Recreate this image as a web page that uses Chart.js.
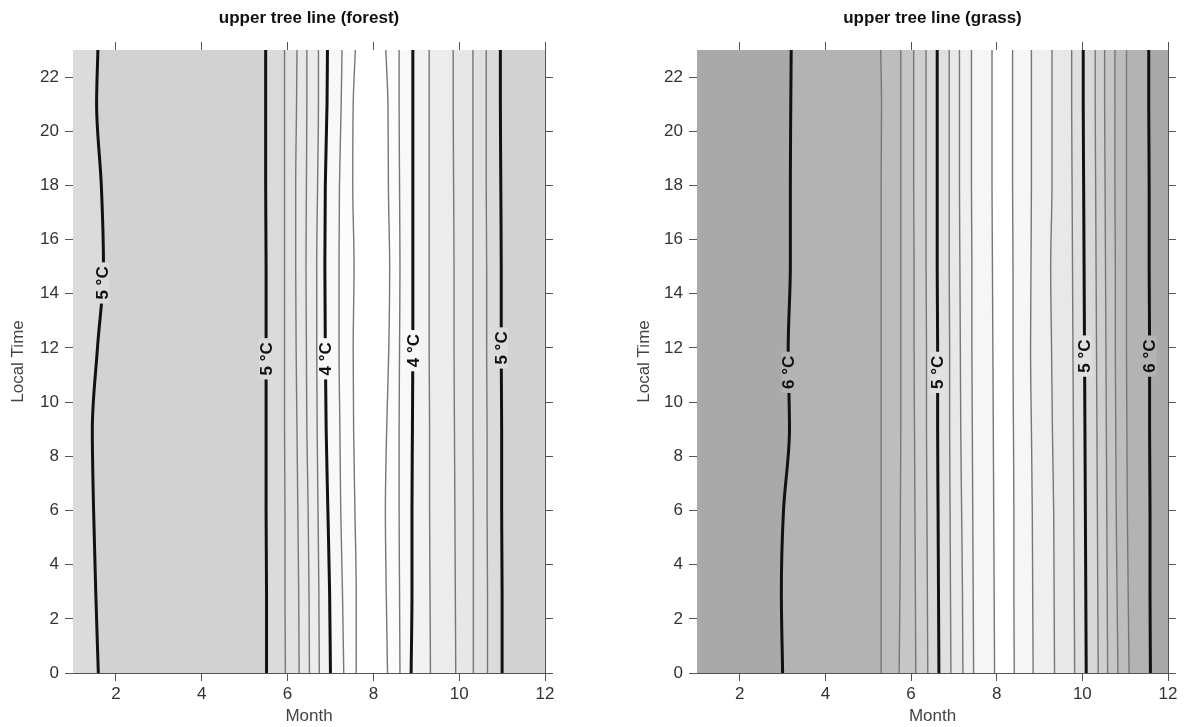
<!DOCTYPE html>
<html>
<head>
<meta charset="utf-8">
<script src="https://cdn.jsdelivr.net/npm/chart.js@4.4.1/dist/chart.umd.min.js"></script>
<style>
  html, body { margin: 0; padding: 0; background: #fff; }
  .panel { position: absolute; top: 0; width: 596px; height: 727px; }
  #left { left: 0; }
  #right { left: 596px; }
</style>
</head>
<body>
<div class="panel" id="left"><canvas id="forestChart"></canvas></div>
<div class="panel" id="right"><canvas id="grassChart"></canvas></div>
<script>
const HOURS = [0, 3, 6, 9, 12, 15, 18, 21, 23];
const MONTH_TICKS = [2, 4, 6, 8, 10, 12];
const HOUR_TICKS = [0, 2, 4, 6, 8, 10, 12, 14, 16, 18, 20, 22];

// upper tree line (forest): contour level and month position of each line
const forestLevels = [5, 5, 4.8, 4.6, 4.4, 4.2, 4, 3.8, 3.6, 3.6, 3.8, 4, 4.2, 4.4, 4.6, 4.8, 5];
const forestLines = [
    [1.59, 1.53, 1.48, 1.45, 1.57, 1.71, 1.66, 1.55, 1.58],
    [5.51, 5.51, 5.50, 5.50, 5.50, 5.50, 5.49, 5.49, 5.49],
    [5.95, 5.94, 5.94, 5.93, 5.93, 5.93, 5.93, 5.93, 5.93],
    [6.27, 6.26, 6.24, 6.22, 6.20, 6.19, 6.19, 6.21, 6.22],
    [6.51, 6.50, 6.48, 6.45, 6.44, 6.43, 6.44, 6.45, 6.45],
    [6.74, 6.73, 6.71, 6.69, 6.68, 6.68, 6.70, 6.72, 6.72],
    [7.00, 6.98, 6.94, 6.90, 6.88, 6.87, 6.88, 6.92, 6.93],
    [7.31, 7.28, 7.24, 7.22, 7.20, 7.20, 7.21, 7.25, 7.27],
    [7.60, 7.60, 7.57, 7.54, 7.53, 7.55, 7.52, 7.53, 7.58],
    [8.33, 8.30, 8.28, 8.31, 8.36, 8.38, 8.35, 8.34, 8.29],
    [8.62, 8.61, 8.60, 8.60, 8.61, 8.62, 8.61, 8.60, 8.60],
    [8.88, 8.90, 8.90, 8.91, 8.92, 8.92, 8.92, 8.92, 8.92],
    [9.33, 9.32, 9.31, 9.31, 9.30, 9.30, 9.30, 9.30, 9.30],
    [9.92, 9.91, 9.90, 9.89, 9.88, 9.88, 9.87, 9.86, 9.86],
    [10.33, 10.33, 10.33, 10.32, 10.32, 10.32, 10.32, 10.32, 10.32],
    [10.66, 10.66, 10.65, 10.65, 10.64, 10.64, 10.63, 10.63, 10.63],
    [11.00, 11.00, 10.99, 10.99, 10.98, 10.98, 10.97, 10.96, 10.96]
];
// hour where the label sits on each labelled (whole degree) line, in line order
const forestLabelHours = [14.4, 11.6, 11.6, 11.9, 12.0];

// upper tree line (grass)
const grassLevels = [6, 5.8, 5.6, 5.4, 5.2, 5, 4.8, 4.6, 4.4, 4.2, 4.2, 4.4, 4.6, 4.8, 5, 5.2, 5.4, 5.6, 5.8, 6];
const grassLines = [
    [3.00, 2.97, 3.02, 3.16, 3.13, 3.18, 3.18, 3.19, 3.20],
    [5.30, 5.30, 5.30, 5.30, 5.30, 5.30, 5.30, 5.31, 5.29],
    [5.72, 5.74, 5.75, 5.76, 5.76, 5.76, 5.76, 5.76, 5.76],
    [6.11, 6.10, 6.09, 6.08, 6.07, 6.07, 6.06, 6.06, 6.06],
    [6.39, 6.38, 6.37, 6.36, 6.36, 6.35, 6.35, 6.35, 6.35],
    [6.65, 6.64, 6.63, 6.62, 6.62, 6.61, 6.61, 6.61, 6.61],
    [6.93, 6.92, 6.91, 6.90, 6.90, 6.89, 6.89, 6.89, 6.89],
    [7.21, 7.20, 7.18, 7.16, 7.15, 7.14, 7.13, 7.13, 7.13],
    [7.46, 7.45, 7.44, 7.43, 7.42, 7.42, 7.41, 7.41, 7.41],
    [7.95, 7.94, 7.93, 7.92, 7.91, 7.90, 7.89, 7.89, 7.89],
    [8.41, 8.40, 8.40, 8.39, 8.38, 8.38, 8.37, 8.37, 8.37],
    [8.85, 8.84, 8.83, 8.81, 8.79, 8.80, 8.81, 8.81, 8.81],
    [9.35, 9.34, 9.33, 9.30, 9.28, 9.26, 9.29, 9.29, 9.29],
    [9.82, 9.81, 9.80, 9.79, 9.78, 9.77, 9.76, 9.75, 9.75],
    [10.09, 10.08, 10.07, 10.06, 10.05, 10.04, 10.03, 10.02, 10.02],
    [10.37, 10.36, 10.35, 10.34, 10.33, 10.32, 10.31, 10.30, 10.30],
    [10.59, 10.58, 10.57, 10.56, 10.55, 10.54, 10.53, 10.52, 10.52],
    [10.83, 10.81, 10.79, 10.78, 10.77, 10.77, 10.76, 10.76, 10.76],
    [11.09, 11.07, 11.05, 11.04, 11.03, 11.03, 11.03, 11.03, 11.03],
    [11.59, 11.58, 11.58, 11.57, 11.57, 11.56, 11.56, 11.55, 11.55]
];
const grassLabelHours = [11.1, 11.1, 11.7, 11.7];

// grey of each band between lines (left edge ... right edge)
const forestBandColors = ['#dbdbdb', '#d2d2d2', '#dbdbdb', '#e1e1e1', '#e7e7e7', '#ececec', '#f2f2f2', '#f8f8f8', '#fcfcfc',
    '#ffffff', '#fcfcfc', '#f8f8f8', '#f2f2f2', '#ececec', '#e7e7e7', '#e1e1e1', '#dbdbdb', '#d2d2d2'];
const grassBandColors = ['#a9a9a9', '#b3b3b3', '#bdbdbd', '#c6c6c6', '#cfcfcf', '#d8d8d8', '#e0e0e0', '#e8e8e8', '#efefef', '#f6f6f6',
    '#ffffff', '#f6f6f6', '#efefef', '#e8e8e8', '#e0e0e0', '#d8d8d8', '#cfcfcf', '#c6c6c6', '#bdbdbd', '#b3b3b3', '#a9a9a9'];

Chart.defaults.font.family = '"Liberation Sans", Arial, sans-serif';
Chart.defaults.color = '#333';

const FONT = '"Liberation Sans", Arial, sans-serif';

function lightness(hex) {
    return parseInt(hex.slice(1, 3), 16);
}

function labelPlugin(items) {
    return {
        id: 'contourLabels',
        afterDatasetsDraw(chart) {
            const ctx = chart.ctx;
            const yScale = chart.scales.y;
            items.forEach(item => {
                const pts = chart.getDatasetMeta(item.dataset).data;
                const py = yScale.getPixelForValue(item.hour);
                let px = pts[0].x;
                for (let k = 1; k < pts.length; k++) {
                    const a = pts[k - 1], b = pts[k];
                    if (py <= a.y && py >= b.y) {
                        const t = (a.y - py) / (a.y - b.y);
                        px = a.x + t * (b.x - a.x);
                        break;
                    }
                }
                ctx.save();
                ctx.translate(px, py);
                ctx.rotate(-Math.PI / 2);
                ctx.font = 'bold 17px ' + FONT;
                const w = ctx.measureText(item.text).width;
                ctx.fillStyle = item.bg;
                ctx.fillRect(-w / 2 - 4, -7, w + 8, 14);
                ctx.fillStyle = '#111';
                ctx.textAlign = 'center';
                ctx.textBaseline = 'middle';
                ctx.fillText(item.text, 0, 1);
                ctx.restore();
            });
        }
    };
}

function makeChart(canvasId, title, lines, levels, bandColors, labelHours, pad) {
    const datasets = lines.map((months, i) => {
        const thick = Number.isInteger(levels[i]);
        return {
            data: months.map((m, k) => ({x: m, y: HOURS[k]})),
            borderColor: thick ? '#111' : '#777',
            borderWidth: thick ? 3 : 1.4,
            backgroundColor: bandColors[i],
            fill: i === 0 ? {value: 1} : '-1',
            pointRadius: 0,
            cubicInterpolationMode: 'monotone'
        };
    });
    const last = lines[lines.length - 1];
    datasets.push({
        data: last.map((m, k) => ({x: m, y: HOURS[k]})),
        borderWidth: 0,
        backgroundColor: bandColors[lines.length],
        fill: {value: 12},
        pointRadius: 0,
        cubicInterpolationMode: 'monotone'
    });

    const labels = [];
    let n = 0;
    levels.forEach((lv, i) => {
        if (Number.isInteger(lv)) {
            const l = bandColors[i], r = bandColors[i + 1];
            labels.push({dataset: i, hour: labelHours[n++], text: lv + ' °C',
                bg: lightness(l) > lightness(r) ? l : r});
        }
    });

    const tickGrid = {drawOnChartArea: false, drawTicks: true, tickLength: 8, color: '#555', lineWidth: 1};
    const border = {display: true, color: '#555', width: 1};
    const tickFont = {size: 17};

    return new Chart(document.getElementById(canvasId), {
        type: 'line',
        data: {datasets},
        plugins: [labelPlugin(labels)],
        options: {
            indexAxis: 'y',
            responsive: true,
            maintainAspectRatio: false,
            animation: false,
            layout: {padding: {left: pad.left, right: pad.right, top: 0, bottom: 0}},
            plugins: {
                legend: {display: false},
                tooltip: {enabled: false},
                filler: {drawTime: 'beforeDatasetsDraw'},
                title: {
                    display: true,
                    text: title,
                    fullSize: false,
                    color: '#111',
                    font: {size: 17, weight: 'bold'},
                    padding: {top: 8, bottom: 13.6}
                }
            },
            scales: {
                x: {
                    type: 'linear', position: 'bottom', min: 1, max: 12,
                    afterBuildTicks: s => { s.ticks = MONTH_TICKS.map(v => ({value: v})); },
                    afterFit: s => { s.height = 54; },
                    grid: tickGrid, border,
                    ticks: {font: tickFont, color: '#333', padding: 3, maxRotation: 0},
                    title: {display: true, text: 'Month', color: '#444', font: {size: 17}, padding: {top: 0, bottom: 0}}
                },
                x2: {
                    type: 'linear', position: 'top', min: 1, max: 12,
                    afterBuildTicks: s => { s.ticks = MONTH_TICKS.map(v => ({value: v})); },
                    grid: tickGrid, border,
                    ticks: {display: false}
                },
                y: {
                    type: 'linear', position: 'left', min: 0, max: 23,
                    afterBuildTicks: s => { s.ticks = HOUR_TICKS.map(v => ({value: v})); },
                    afterFit: s => { s.width = pad.axis; },
                    grid: tickGrid, border,
                    ticks: {font: tickFont, color: '#333', padding: 6},
                    title: {display: true, text: 'Local Time', color: '#444', font: {size: 17}, padding: {top: 4, bottom: 4}}
                },
                y2: {
                    type: 'linear', position: 'right', min: 0, max: 23,
                    afterBuildTicks: s => { s.ticks = HOUR_TICKS.map(v => ({value: v})); },
                    grid: tickGrid, border,
                    ticks: {display: false}
                }
            }
        }
    });
}

makeChart('forestChart', 'upper tree line (forest)', forestLines, forestLevels, forestBandColors, forestLabelHours,
    {left: 4, right: 43, axis: 69});
makeChart('grassChart', 'upper tree line (grass)', grassLines, grassLevels, grassBandColors, grassLabelHours,
    {left: 34, right: 16, axis: 67});
</script>
</body>
</html>
